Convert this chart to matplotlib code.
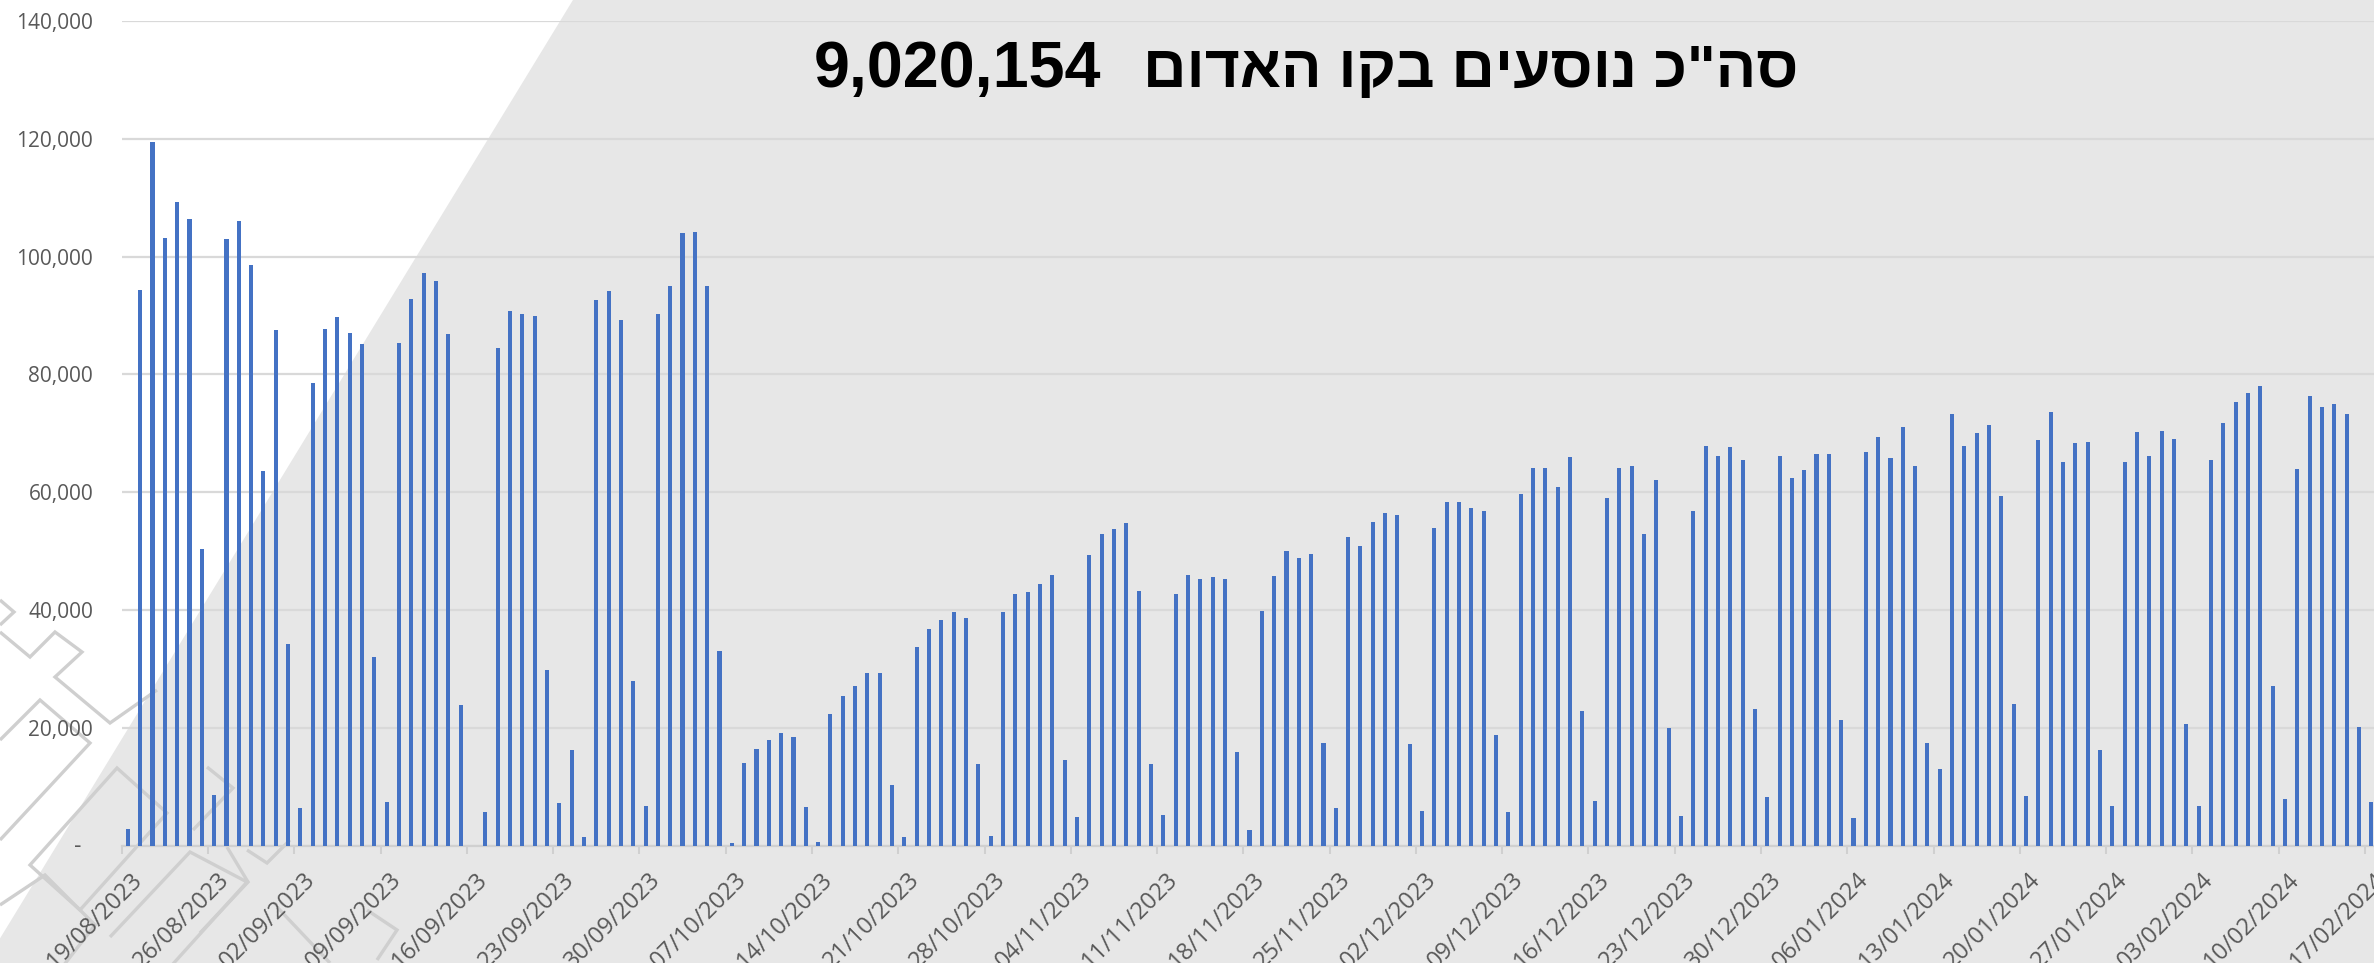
import numpy as np
import pandas as pd
import matplotlib
matplotlib.use("Agg")
import matplotlib.pyplot as plt
from matplotlib.patches import Polygon
from matplotlib.ticker import FuncFormatter, MultipleLocator
import matplotlib.transforms as mtransforms

W, H, DPI = 2374, 963, 100

# daily riders on the Red Line, one value per day starting 19/08/2023
START = "2023-08-19"
aug = [2800, 94300, 119500, 103200, 109200, 106300, 50300, 8550, 102900, 106000,
       98600, 63600, 87600]
sep = [34300, 6400, 78600, 87700, 89700, 87100, 85100, 32000, 7400, 85400,
       92800, 97200, 95900, 86900, 23900, 0, 5800, 84500, 90700, 90300,
       90000, 29900, 7200, 16200, 1500, 92600, 94100, 89200, 28000, 6800]
oct_ = [90300, 95000, 104000, 104200, 95000, 33100, 400, 14100, 16500, 18000,
        19200, 18500, 6600, 600, 22300, 25400, 27100, 29400, 29400, 10400,
        1500, 33700, 36800, 38400, 39700, 38700, 13900, 1600, 39700, 42700,
        43100]
nov = [44400, 46000, 14600, 4900, 49400, 53000, 53800, 54700, 43200, 13900,
       5300, 42700, 45900, 45200, 45700, 45200, 16000, 2700, 39900, 45800,
       50000, 48800, 49600, 17400, 6500, 52400, 50900, 55000, 56400, 56200]
dec = [17200, 5900, 53900, 58400, 58300, 57400, 56800, 18800, 5700, 59700,
       64100, 64100, 60900, 66000, 22800, 7600, 59100, 64100, 64400, 52900,
       62100, 20000, 5100, 56800, 67800, 66200, 67600, 65400, 23300, 8200,
       66200]
jan = [62400, 63800, 66500, 66500, 21300, 4700, 66900, 69400, 65800, 71100,
       64400, 17400, 13000, 73300, 67900, 70000, 71400, 59300, 24100, 8400,
       68900, 73600, 65200, 68400, 68600, 16300, 6800, 65200, 70200, 66100,
       70400]
feb = [69000, 20700, 6800, 65500, 71800, 75400, 76900, 78100, 27200, 8000,
       63900, 76300, 74400, 74900, 73300, 20200, 7400]

riders = aug + sep + oct_ + nov + dec + jan + feb
dates = pd.date_range(START, periods=len(riders), freq="D")

TITLE_HE = 'סה"כ נוסעים בקו האדום'
TOTAL = "9,020,154"

BG = "#E7E7E7"
BAR = "#4472C4"
GRID = "#D9D9D9"
TXT = "#595959"

fig = plt.figure(figsize=(W / DPI, H / DPI), dpi=DPI)
fig.patch.set_facecolor(BG)
ident = mtransforms.IdentityTransform()

def pix(pts):
    # top-left pixel coords -> display coords
    return [(x, H - y) for x, y in pts]

# white wedge in the upper left
fig.patches.append(Polygon(pix([(-5, -5), (576, -5), (-15, 963), (-5, 963)]),
                           closed=True, transform=ident, facecolor="white",
                           edgecolor="none", zorder=-3))

# faint decorative outlines in the lower left (background ornament)
ornament = [
    ([(0, 632), (30, 657), (55, 632), (82, 652), (55, 677), (110, 723), (157, 690)], False),
    ([(0, 600), (14, 612), (0, 625)], False),
    ([(0, 740), (40, 700), (90, 743), (0, 840)], False),
    ([(30, 865), (117, 768), (167, 813), (80, 910)], True),
    ([(207, 767), (233, 788), (193, 830)], False),
    ([(227, 847), (248, 882), (200, 933)], False),
    ([(247, 850), (267, 863), (290, 840)], False),
    ([(110, 937), (190, 852), (247, 882), (163, 975)], False),
    ([(277, 907), (330, 963)], False),
    ([(367, 910), (397, 930), (377, 960)], False),
    ([(0, 905), (45, 875), (95, 925), (60, 970)], False),
]
for pts, closed in ornament:
    fig.patches.append(Polygon(pix(pts), closed=closed, transform=ident,
                               facecolor="none", edgecolor="#CFCFCF", lw=2.4,
                               zorder=-2))

# plot area
x0, ytop, ybot = 121.7, 20.9, 845.8
ax = fig.add_axes([x0 / W, (H - ybot) / H, (W - x0) / W, (ybot - ytop) / H])
ax.set_facecolor("none")

x = np.arange(len(riders))
ax.bar(x, riders, width=0.33, color=BAR, zorder=3)

step = 12.326
ax.set_xlim(-0.5, -0.5 + (W - x0) / step)
ax.set_ylim(0, 140000)

ax.yaxis.set_major_locator(MultipleLocator(20000))
ax.yaxis.set_major_formatter(FuncFormatter(lambda v, p: "" if v == 0 else f"{v:,.0f}"))
ax.yaxis.grid(True, color=GRID, lw=1.6, zorder=0)
ax.set_axisbelow(True)
for s in ("top", "right", "left"):
    ax.spines[s].set_visible(False)
ax.spines["bottom"].set_color("#D0D0D0")
ax.spines["bottom"].set_linewidth(1.6)

ax.tick_params(axis="y", length=0, pad=20.5, labelsize=15, labelcolor=TXT)
ax.annotate("-", xy=(0, 0), xycoords=("axes fraction", "data"), xytext=(-44, 0),
            textcoords="offset pixels", ha="center", va="center", fontsize=15, color=TXT)

wk = x[::7]
ax.set_xticks(wk - 0.5)
ax.set_xticklabels(dates[::7].strftime("%d/%m/%Y"), rotation=45, ha="right",
                   va="top", rotation_mode="anchor")
ax.tick_params(axis="x", length=5.8, width=1.5, color="#D0D0D0", pad=10,
               labelsize=17, labelcolor=TXT)
off = mtransforms.ScaledTranslation(9 / DPI, 0, fig.dpi_scale_trans)
for lbl in ax.get_xticklabels():
    lbl.set_transform(lbl.get_transform() + off)
for lbl in ax.get_xticklabels() + ax.get_yticklabels():
    lbl.set_family("Open Sans")

# title: number on the left, Hebrew words (reversed for LTR drawing) on the right
fig.text(1101 / W, 1 - 87 / H, TOTAL, ha="right", va="baseline", fontsize=46.5,
         fontweight="bold", family="Liberation Sans", color="black")
fig.text(1143 / W, 1 - 87 / H, TITLE_HE[::-1], ha="left", va="baseline",
         fontsize=43.5, fontweight="bold", family="Liberation Sans", color="black")

fig.savefig("out.png", dpi=DPI, facecolor=BG)
